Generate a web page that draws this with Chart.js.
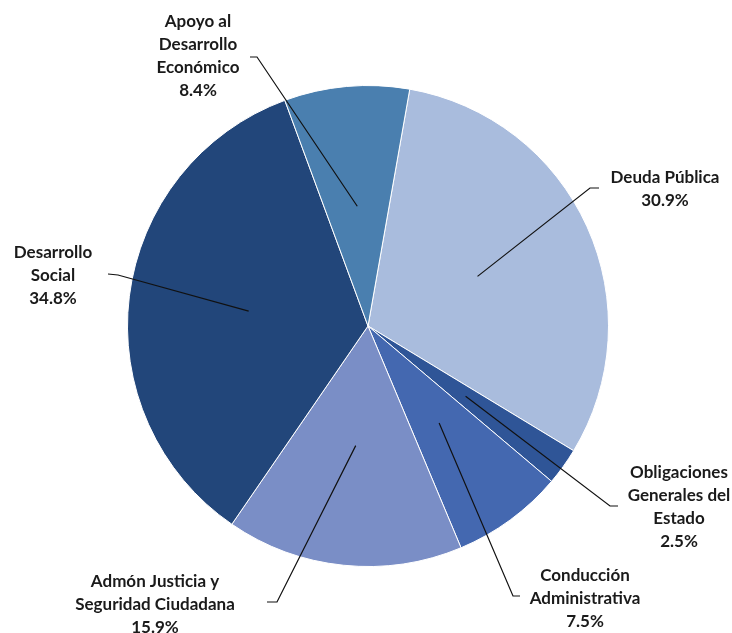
<!DOCTYPE html>
<html>
<head>
<meta charset="utf-8">
<script src="https://cdn.jsdelivr.net/npm/chart.js@4/dist/chart.umd.min.js"></script>
<style>
  html, body { margin: 0; padding: 0; background: #fff; }
  #wrap { width: 732px; height: 633px; position: relative; }
</style>
</head>
<body>
<div id="wrap"><canvas id="pie"></canvas></div>
<script>
// datos (sentido horario desde arriba)
const categories = [
  ['Deuda Pública'],
  ['Obligaciones', 'Generales del', 'Estado'],
  ['Conducción', 'Administrativa'],
  ['Admón Justicia y', 'Seguridad Ciudadana'],
  ['Desarrollo', 'Social'],
  ['Apoyo al', 'Desarrollo', 'Económico']
];
const shares = [30.9, 2.5, 7.5, 15.9, 34.8, 8.4];
const colors = ['#A9BCDD', '#2F5597', '#4468B0', '#7A8EC6', '#22467A', '#4A7FAF'];

// posición de cada rótulo: centro del texto, codo y fin de la guía
const labelLayout = [
  { x: 665, y: 178, elbow: [590, 188], end: [599, 188] },
  { x: 679, y: 473, elbow: [610, 506], end: [618, 506] },
  { x: 585, y: 576, elbow: [513, 596], end: [520, 596] },
  { x: 155, y: 582, elbow: [277, 602], end: [267, 602] },
  { x: 53,  y: 253, elbow: [118, 275], end: [108, 274] },
  { x: 198, y: 22,  elbow: [257, 57],  end: [250, 57] }
];

const FONT = "bold 17px Lato, 'Open Sans', sans-serif";
const LINE_H = 23;

const leaderLabels = {
  id: 'leaderLabels',
  afterDraw(chart) {
    const { ctx } = chart;
    const arcs = chart.getDatasetMeta(0).data;
    ctx.save();
    arcs.forEach((arc, i) => {
      const L = labelLayout[i];
      const mid = (arc.startAngle + arc.endAngle) / 2;
      const r = arc.outerRadius * 0.5;
      const px = arc.x + Math.cos(mid) * r;
      const py = arc.y + Math.sin(mid) * r;

      ctx.strokeStyle = '#111';
      ctx.lineWidth = 1.2;
      ctx.beginPath();
      ctx.moveTo(px, py);
      ctx.lineTo(L.elbow[0], L.elbow[1]);
      ctx.lineTo(L.end[0], L.end[1]);
      ctx.stroke();

      const lines = categories[i].concat([shares[i].toFixed(1) + '%']);
      ctx.fillStyle = '#1a1a1a';
      ctx.font = FONT;
      ctx.textAlign = 'center';
      ctx.textBaseline = 'middle';
      lines.forEach((t, k) => ctx.fillText(t, L.x, L.y + k * LINE_H));
    });
    ctx.restore();
  }
};

new Chart(document.getElementById('pie'), {
  type: 'pie',
  data: {
    labels: categories.map(c => c.join(' ')),
    datasets: [{
      data: shares,
      backgroundColor: colors,
      borderColor: '#ffffff',
      borderWidth: 1
    }]
  },
  options: {
    responsive: true,
    maintainAspectRatio: false,
    animation: false,
    rotation: 10,
    layout: { padding: { top: 85, bottom: 66, left: 127, right: 123 } },
    plugins: {
      legend: { display: false },
      tooltip: { enabled: false }
    }
  },
  plugins: [leaderLabels]
});
</script>
</body>
</html>
